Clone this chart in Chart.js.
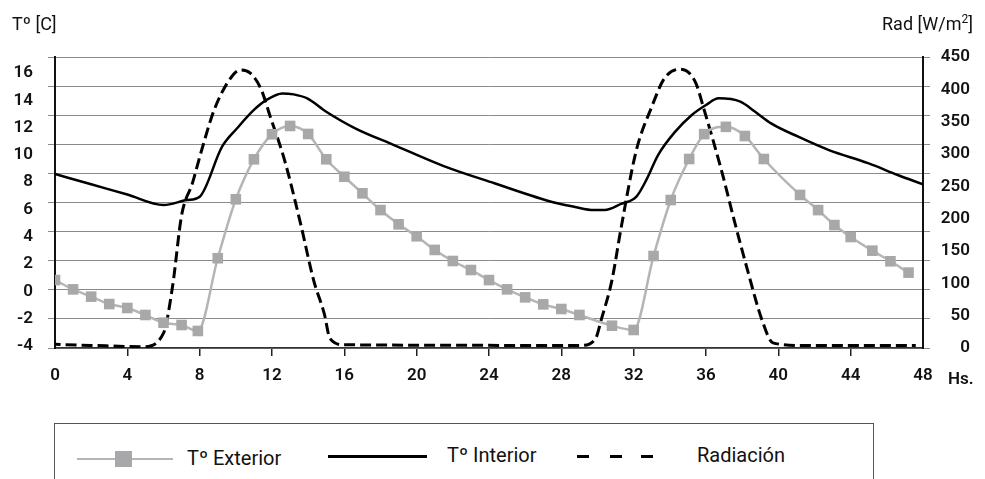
<!DOCTYPE html>
<html>
<head>
<meta charset="utf-8">
<script src="https://cdn.jsdelivr.net/npm/chart.js@4.4.0/dist/chart.umd.min.js"></script>
<style>
  html, body { margin: 0; padding: 0; background: #fff; }
  #wrap { position: relative; width: 985px; height: 479px; overflow: hidden;
          font-family: Roboto, "DejaVu Sans", sans-serif; color: #111; }
  #c { position: absolute; left: 0; top: 0; }
  .txt { position: absolute; white-space: nowrap; line-height: 20px; }
  .ttl { font-size: 18px; }
  .leg { font-size: 20px; }
  sup { font-size: 12px; vertical-align: 7px; line-height: 0; }
  #legBox { position: absolute; left: 54px; top: 423px; width: 820px; height: 80px;
            border: 1.5px solid #555; box-sizing: border-box; }
  .bar { position: absolute; }
</style>
</head>
<body>
<div id="wrap">
  <canvas id="c" width="985" height="400"></canvas>
  <div class="txt ttl" style="left:12px; top:14px;">Tº [C]</div>
  <div class="txt ttl" style="right:12px; top:14px;">Rad [W/m<sup>2</sup>]</div>
  <div class="txt" style="left:948px; top:368px; font-size:17px; font-weight:600;">Hs.</div>

  <div id="legBox"></div>
  <div class="bar" style="left:77px; top:458px; width:96px; height:2px; background:#b5b5b5;"></div>
  <div class="bar" style="left:115px; top:451px; width:17px; height:16px; background:#a8a8aa;"></div>
  <div class="txt leg" style="left:187px; top:448px;">Tº Exterior</div>
  <div class="bar" style="left:328px; top:455px; width:99px; height:3px; background:#000;"></div>
  <div class="txt leg" style="left:447px; top:445px;">Tº Interior</div>
  <div class="bar" style="left:577px; top:455px; width:12px; height:3px; background:#000;"></div>
  <div class="bar" style="left:610px; top:455px; width:12px; height:3px; background:#000;"></div>
  <div class="bar" style="left:641px; top:455px; width:12px; height:3px; background:#000;"></div>
  <div class="txt leg" style="left:697px; top:445px;">Radiación</div>
</div>
<script>
// horas / valores
const hourTicks = [0, 4, 8, 12, 16, 20, 24, 28, 32, 36, 40, 44, 48];
const tempTicks = [-4, -2, 0, 2, 4, 6, 8, 10, 12, 14, 16];
const radTicks  = [0, 50, 100, 150, 200, 250, 300, 350, 400, 450];

// Tº Exterior (marcadores)
const extHours = [0, 1, 2, 3, 4, 5, 6, 7, 7.9, 9, 10, 11, 12, 13, 14, 15, 16, 17, 18, 19, 20,
                  21, 22, 23, 24, 25, 26, 27, 28, 29, 30.8, 32, 33.1, 34.05, 35.07, 35.9,
                  37.1, 38.15, 39.2, 41.2, 42.2, 43.1, 44, 45.2, 46.2, 47.2];
const extTemp  = [0.67, 0.03, -0.47, -0.98, -1.25, -1.73, -2.26, -2.42, -2.83, 2.17, 6.22,
                  8.97, 10.69, 11.26, 10.71, 8.97, 7.77, 6.63, 5.48, 4.5, 3.68, 2.74, 1.98,
                  1.36, 0.67, 0.03, -0.52, -1.0, -1.32, -1.73, -2.47, -2.76, 2.32, 6.17,
                  8.99, 10.7, 11.2, 10.57, 8.99, 6.52, 5.48, 4.45, 3.63, 2.69, 1.96, 1.18];

// Tº Interior
const intHours = [0, 2, 4, 6, 7.3, 8, 9.24, 10.07, 11, 11.7, 12.57, 13.2, 13.95, 15,
                  16.6, 18.75, 21.5, 24.3, 27.6, 28.7, 29.8, 30.4, 31.3, 32.15, 32.7, 33.35,
                  34.3, 35.2, 36, 36.7, 37.9, 38.7, 39.6, 41.1, 42.8, 45, 46.6, 48];
const intTemp  = [7.96, 7.25, 6.55, 5.83, 6.17, 6.4, 9.84, 11.1, 12.36, 13.05, 13.5,
                  13.43, 13.15, 12.24, 11.1, 9.95, 8.5, 7.32, 6.0, 5.71, 5.48, 5.48, 5.9,
                  6.4, 7.55, 9.26, 10.87, 12.0, 12.7, 13.16, 12.93, 12.25, 11.44, 10.52,
                  9.6, 8.69, 7.89, 7.25];

// Radiación [W/m2]
const radHours = [-0.3, 2, 4.9, 6, 6.5, 7, 7.6, 8.1, 8.8, 9.7, 10.25, 10.8, 11.4, 11.9, 12.7,
                  13.6, 14.3, 14.9, 15.2, 16, 29.1, 29.9, 30.2, 30.8, 31.3, 32.15, 33,
                  33.7, 34.55, 35.4, 35.9, 36.9, 37.6, 38.3, 39.1, 39.7, 41.3, 47.6];
const radVals  = [6, 4, 2, 23, 95, 205, 255, 305, 368, 417, 430, 425, 400, 358, 290,
                  190, 105, 52, 15, 5, 4, 15, 43, 105, 185, 306, 373, 417, 431, 412,
                  368, 270, 193, 120, 43, 8, 4, 4];

const zip = (xs, ys) => xs.map((x, i) => ({ x: x, y: ys[i] }));

const tickFont = { family: 'Roboto', size: 17, weight: '600' };
const GRID = '#8a8a8a';

// eje de etiquetas izquierdo (desplazado como en el original)
const lblTop = 16 + 16 / 13.65;
const lblBot = -4 - 2 / 13.65;

new Chart(document.getElementById('c'), {
  type: 'line',
  data: {
    datasets: [
      {
        label: 'Tº Exterior',
        data: zip(extHours, extTemp),
        yAxisID: 'y',
        borderColor: '#b5b5b5',
        borderWidth: 2.5,
        pointStyle: 'rect',
        pointRadius: 7.5,
        pointBackgroundColor: '#a8a8aa',
        pointBorderWidth: 0,
        cubicInterpolationMode: 'monotone'
      },
      {
        label: 'Tº Interior',
        data: zip(intHours, intTemp),
        yAxisID: 'y',
        borderColor: '#000',
        borderWidth: 2.5,
        pointRadius: 0,
        cubicInterpolationMode: 'monotone'
      },
      {
        label: 'Radiación',
        data: zip(radHours, radVals),
        yAxisID: 'y2',
        borderColor: '#000',
        borderWidth: 3,
        borderDash: [11, 5],
        pointRadius: 0,
        cubicInterpolationMode: 'monotone'
      }
    ]
  },
  options: {
    responsive: false,
    animation: false,
    layout: { padding: { top: 57, right: 15, bottom: 0, left: 0 } },
    plugins: { legend: { display: false }, tooltip: { enabled: false } },
    scales: {
      x: {
        type: 'linear', min: 0, max: 48,
        afterBuildTicks: ax => { ax.ticks = hourTicks.map(v => ({ value: v })); },
        afterFit: ax => { ax.height = 52; },
        grid: {
          drawOnChartArea: false, tickLength: 8, lineWidth: 1.5,
          color: ctx => (ctx.tick && (ctx.tick.value === 0 || ctx.tick.value === 48)) ? 'rgba(0,0,0,0)' : '#222'
        },
        border: { display: true, color: '#333', width: 1.5 },
        ticks: { font: tickFont, color: '#111', padding: 10, maxRotation: 0, autoSkip: false }
      },
      y: {
        position: 'left', min: -4, max: 16, weight: 0,
        ticks: { display: false, stepSize: 2 },
        grid: { color: GRID, lineWidth: 1, tickLength: 7 },
        border: { display: true, color: '#111', width: 2 },
        afterFit: ax => { ax.width = 8; }
      },
      yl: {
        position: 'left', min: lblBot, max: lblTop, weight: 1,
        afterBuildTicks: ax => { ax.ticks = tempTicks.map(v => ({ value: v })); },
        grid: { display: false, drawTicks: false },
        border: { display: false },
        ticks: { font: tickFont, color: '#111', padding: 14, autoSkip: false },
        afterFit: ax => { ax.width = 47; }
      },
      yr: {
        position: 'right', min: -4, max: 16, weight: 0,
        ticks: { display: false, stepSize: 2 },
        grid: { drawOnChartArea: false, color: GRID, tickLength: 7 },
        border: { display: true, color: '#111', width: 2 },
        afterFit: ax => { ax.width = 8; }
      },
      y2: {
        position: 'right', min: 0, max: 450, weight: 1,
        afterBuildTicks: ax => { ax.ticks = radTicks.map(v => ({ value: v })); },
        grid: { display: false, drawTicks: false },
        border: { display: false },
        ticks: { font: tickFont, color: '#111', crossAlign: 'far', autoSkip: false },
        afterFit: ax => { ax.width = 39; }
      }
    }
  }
});
</script>
</body>
</html>
